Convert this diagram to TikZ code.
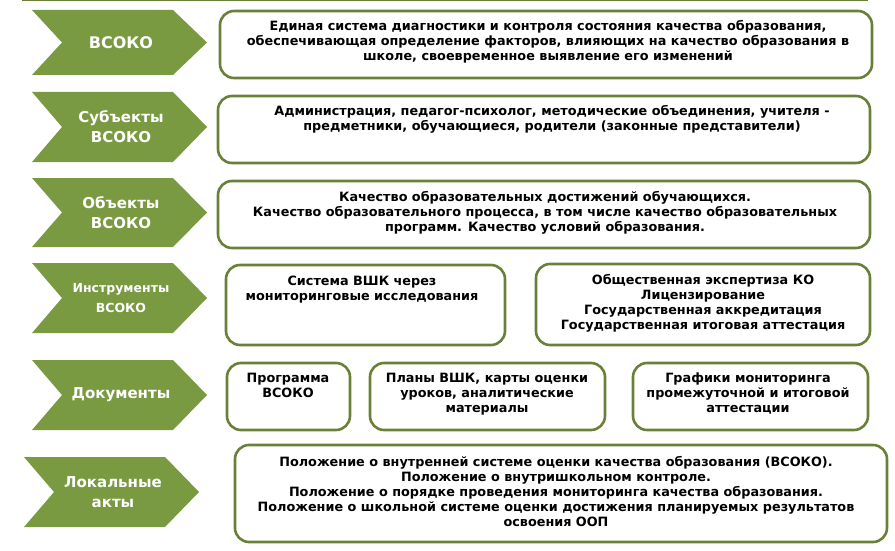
\documentclass[tikz,border=0pt]{standalone}
\usepackage{fontspec}
\setmainfont{DejaVu Sans}
\usetikzlibrary{positioning}

\definecolor{olivefill}{HTML}{7A9A42}
\definecolor{oliveline}{HTML}{6A8038}

\tikzset{
  chevron/.style={fill=olivefill,draw=none},
  chevtext/.style={text=white,align=center,inner sep=0},
  box/.style={draw=oliveline,line width=2.6,rounded corners=14,fill=white},
  boxtext/.style={font=\bfseries\fontsize{12.8}{15}\selectfont,align=center,anchor=north,inner sep=0},
}

\begin{document}
\begin{tikzpicture}[x=1pt,y=-1pt]
        \useasboundingbox (0,0) rectangle (895,551);
        \fill[white] (0,0) rectangle (895,551);
        \draw[oliveline,line width=2] (22,0.5) -- (868,0.5);

        \foreach \t/\b/\dx/\fs/\lbl [count=\i] in {10/75/0/16/ВСОКО, 92/162/0/15/{Субъекты\\ВСОКО}, 178/247/0/15/{Объекты\\ВСОКО}, 263/333/0/12.5/{Инструменты\\ВСОКО}, 360/430/0/15/Документы, 457/527/-8/15/{Локальные\\акты}} {
          \fill[chevron] (32+\dx,\t) -- (173+\dx,\t) -- (207+\dx,{(\t+\b)/2}) -- (173+\dx,\b) -- (32+\dx,\b) -- (62+\dx,{(\t+\b)/2}) -- cycle;
          \node[chevtext,font=\bfseries\fontsize{\fs}{20}\selectfont] (chev\i) at (121+\dx,{(\t+\b)/2}) {\lbl};
        }

        \draw[box] (220,11) rectangle (872,78);
        \node[boxtext] (vsoko) at (548,20) {Единая система диагностики и контроля состояния качества образования,\\обеспечивающая определение факторов, влияющих на качество образования в\\школе, своевременное выявление его изменений};

        \draw[box] (218,96) rectangle (870,163);
        \node[boxtext] (subj) at (552,105) {Администрация, педагог-психолог, методические объединения, учителя -\\предметники, обучающиеся, родители (законные представители)};

        \draw[box] (218,181) rectangle (870,248);
        \node[boxtext] (obj) at (545,191) {Качество образовательных достижений обучающихся.\\Качество образовательного процесса, в том числе качество образовательных\\программ. Качество условий образования.};

        \draw[box] (226,265) rectangle (505,345);
        \node[boxtext] (vshk) at (362,276) {Система ВШК через\\мониторинговые исследования};
        \draw[box] (536,264) rectangle (870,345);
        \node[boxtext] (expert) at (703,274) {Общественная экспертиза КО\\Лицензирование\\Государственная аккредитация\\Государственная итоговая аттестация};

        \draw[box] (227,363) rectangle (350,430);
        \node[boxtext] (prog) at (288,373) {Программа\\ВСОКО};
        \draw[box] (370,363) rectangle (605,430);
        \node[boxtext] (plans) at (487,373) {Планы ВШК, карты оценки\\уроков, аналитические\\материалы};
        \draw[box] (633,363) rectangle (868,430);
        \node[boxtext] (graph) at (748,373) {Графики мониторинга\\промежуточной и итоговой\\аттестации};

        \draw[box] (235,445) rectangle (887,542);
        \node[boxtext] (local) at (556,456) {Положение о внутренней системе оценки качества образования (ВСОКО).\\Положение о внутришкольном контроле.\\Положение о порядке проведения мониторинга качества образования.\\Положение о школьной системе оценки достижения планируемых результатов\\освоения ООП};
      \end{tikzpicture}
\end{document}
